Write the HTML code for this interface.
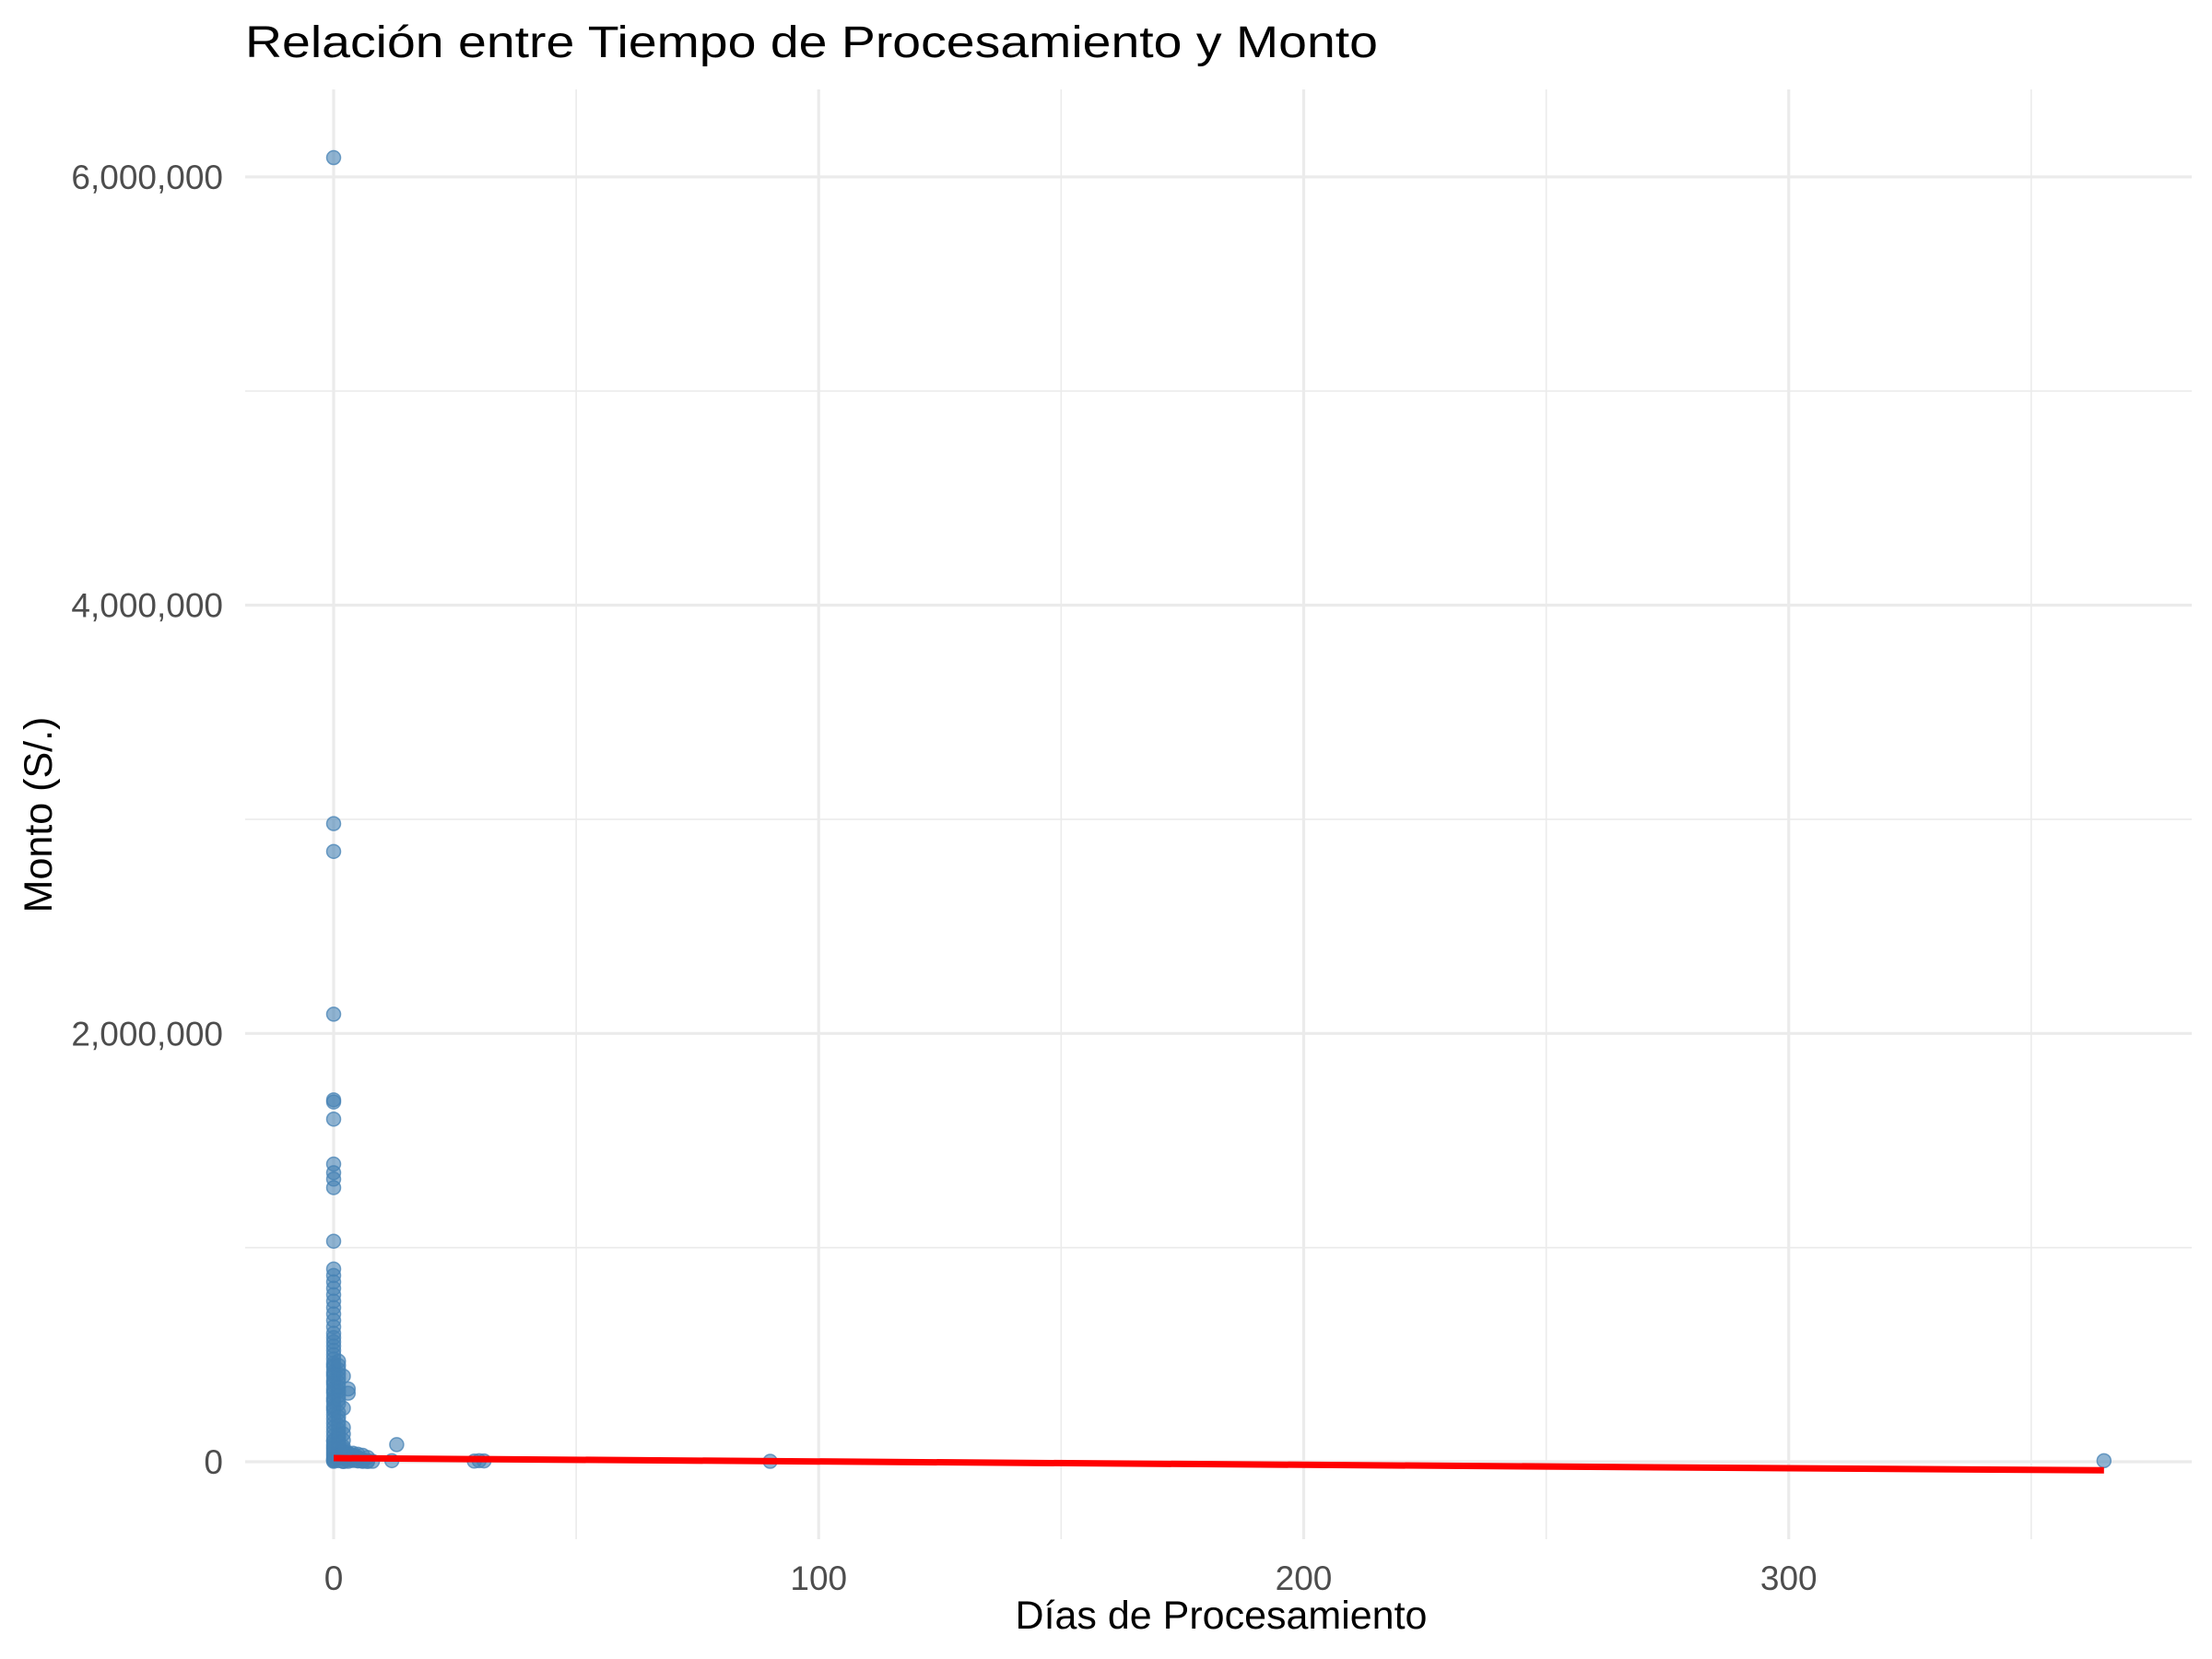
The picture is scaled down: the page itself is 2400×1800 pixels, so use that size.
<!DOCTYPE html>
<html><head><meta charset="utf-8"><style>
html,body{margin:0;padding:0;background:#fff;}
svg{display:block;font-family:"Liberation Sans",Arial,sans-serif;}
</style></head><body>
<svg id="chart" width="2400" height="1800" viewBox="0 0 2400 1800">
<rect width="2400" height="1800" fill="#fff"/>
<g id="grid"></g>
<g id="pts"></g>
<g id="fit"></g>
<g id="axes"></g>
<text x="266" y="62" font-size="48" fill="#000" textLength="1229" lengthAdjust="spacingAndGlyphs">Relación entre Tiempo de Procesamiento y Monto</text>
<text x="1325" y="1767" font-size="43" fill="#000" text-anchor="middle">Días de Procesamiento</text>
<text transform="translate(56,884) rotate(-90)" font-size="43" fill="#000" text-anchor="middle">Monto (S/.)</text>
</svg>
<script>
const xTicks = [0, 100, 200, 300];
const xTickLabels = ["0", "100", "200", "300"];
const yTicks = [0, 2000000, 4000000, 6000000];
const yTickLabels = ["0", "2,000,000", "4,000,000", "6,000,000"];
const dias = [0,0,0,0,0,0,0,0,0,0,0,0,0,0,0,0,0,0,0,0,0,0,0,0,0,0,0,0,0,0,0,0,0,0,0,0,0,0,0,0,0,0,0,0,0,0,0,0,0,0,0,1,1,1,1,1,1,1,1,1,1,0,0,0,0,0,0,0,1,1,1,1,2,3,3,2,2,1,1,2,2,3,3,4,4,5,5,6,6,7,8,1,2,3,4,5,6,7,2,3,12,13,30,31,29,90,365,0,0,0,0,0,0,1,1,1,1,1,1,1,2,2,2,2,3,3,4,5,6,7,1,2,3,4,5,0,1,0,1];
const montos = [6090000,2980000,2850000,2090000,1690000,1680000,1600000,1390000,1350000,1320000,1280000,1030000,900000,870000,840000,810000,780000,750000,720000,690000,660000,630000,600000,580000,560000,540000,520000,500000,480000,460000,440000,420000,400000,380000,360000,340000,320000,300000,280000,260000,240000,220000,200000,180000,160000,140000,120000,100000,80000,60000,40000,470000,430000,390000,350000,310000,270000,230000,190000,150000,110000,20000,10000,5000,2000,30000,50000,70000,20000,40000,60000,80000,400000,340000,320000,250000,160000,120000,90000,60000,30000,40000,15000,30000,10000,20000,5000,10000,3000,5000,2000,5000,3000,8000,6000,4000,2000,1000,1000,2000,5000,80000,5000,4000,3000,2000,5000,450000,410000,370000,330000,290000,250000,450000,410000,370000,330000,290000,210000,170000,130000,100000,70000,45000,35000,25000,40000,35000,30000,20000,15000,50000,40000,30000,20000,10000,90000,95000,130000,140000];
const fitX = [0, 365];
const fitY = [17000, -40000];

const NS = "http://www.w3.org/2000/svg";
const L = 266, R = 2378, T = 97, B = 1670;
function sx(v){ return 362 + v * 5.2625; }
function sy(v){ return 1586 - v / 4304; }
function mk(tag, attrs, parent){
  const e = document.createElementNS(NS, tag);
  for (const k in attrs) e.setAttribute(k, attrs[k]);
  parent.appendChild(e);
  return e;
}
const grid = document.getElementById('grid');
const axes = document.getElementById('axes');
for (let i = 0; i < xTicks.length; i++) {
  const m = xTicks[i] + 50;
  if (sx(m) < R) {
    const ln = mk('line', {x1:sx(m), x2:sx(m), y1:T, y2:B, stroke:'#ebebeb', 'stroke-width':1.6}, grid);
    
    
  }
}
for (let i = 0; i < yTicks.length - 1; i++) {
  const m = yTicks[i] + 1000000;
  const ln = mk('line', {x1:L, x2:R, y1:sy(m), y2:sy(m), stroke:'#ebebeb', 'stroke-width':1.6}, grid);
  
  
}
for (let i = 0; i < xTicks.length; i++) {
  const ln = mk('line', {x1:sx(xTicks[i]), x2:sx(xTicks[i]), y1:T, y2:B, stroke:'#ebebeb', 'stroke-width':3.2}, grid);
  
  
  const t = mk('text', {x:sx(xTicks[i]), y:1725, 'font-size':37, fill:'#4d4d4d', 'text-anchor':'middle'}, axes);
  t.textContent = xTickLabels[i];
  
  
}
for (let i = 0; i < yTicks.length; i++) {
  const ln = mk('line', {x1:L, x2:R, y1:sy(yTicks[i]), y2:sy(yTicks[i]), stroke:'#ebebeb', 'stroke-width':3.2}, grid);
  
  
  const t = mk('text', {x:242, y:sy(yTicks[i]) + 13, 'font-size':37, fill:'#4d4d4d', 'text-anchor':'end'}, axes);
  t.textContent = yTickLabels[i];
  
  
}
const pts = document.getElementById('pts');
for (let i = 0; i < dias.length; i++) {
  const c = mk('circle', {cx:sx(dias[i]), cy:sy(montos[i]), r:7.5, fill:'rgba(70,130,180,0.6)', stroke:'rgba(70,130,180,0.75)', 'stroke-width':1.5}, pts);
  
  
}
const fit = document.getElementById('fit');
const fl = mk('line', {x1:sx(fitX[0]), y1:sy(fitY[0]), x2:sx(fitX[1]), y2:sy(fitY[1]), stroke:'#ff0000', 'stroke-width':7}, fit);


</script>
</body></html>
